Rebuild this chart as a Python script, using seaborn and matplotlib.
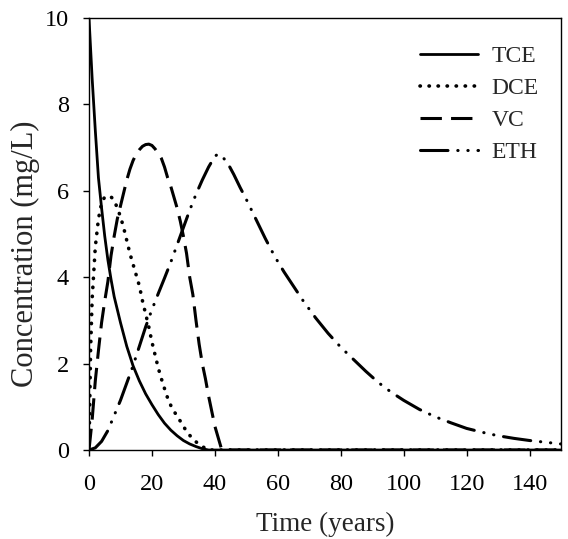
import matplotlib
matplotlib.use("Agg")
import matplotlib.pyplot as plt
import seaborn as sns
import pandas as pd

# ---- data ----
tce_t = [0, 1, 2, 3, 4, 5, 6, 7, 8, 9, 10, 12, 14, 16, 18, 20, 22, 24, 26, 28, 30, 32, 34, 36, 38, 150]
tce_c = [10, 8.6, 7.4, 6.3, 5.6, 4.95, 4.4, 3.95, 3.55, 3.25, 2.95, 2.4, 1.95, 1.6, 1.3, 1.05, 0.82, 0.62,
         0.46, 0.33, 0.22, 0.14, 0.08, 0.03, 0.0, 0.0]

dce_t = [0, 0.5, 1, 1.5, 2, 3, 4, 5, 6, 7, 8, 9, 10, 11, 12, 13, 14, 15, 16, 17, 18, 19, 20, 21, 22, 23, 24,
         25, 26, 27, 28, 29, 30, 31, 32, 33, 34, 35, 36, 37, 38, 150]
dce_c = [0, 2.3, 3.5, 4.1, 4.7, 5.35, 5.72, 5.86, 5.88, 5.86, 5.78, 5.6, 5.4, 5.15, 4.85, 4.55, 4.3, 4.05, 3.8,
         3.45, 3.15, 2.85, 2.5, 2.2, 1.9, 1.65, 1.42, 1.2, 1.03, 0.9, 0.78, 0.67, 0.55, 0.43, 0.34, 0.26, 0.19,
         0.13, 0.08, 0.04, 0.0, 0.0]

vc_t = [0, 1, 2, 3, 4, 5, 6, 7, 8, 9, 10, 11, 12, 13, 14, 15, 16, 17, 18, 19, 20, 21, 22, 23, 24, 25, 26, 27,
        28, 29, 30, 31, 32, 33, 34, 35, 36, 37, 38, 39, 40, 41, 42, 43, 150]
vc_c = [0, 0.7, 1.6, 2.3, 2.95, 3.45, 3.9, 4.5, 4.95, 5.35, 5.65, 5.95, 6.25, 6.5, 6.7, 6.85, 6.95, 7.03, 7.07,
        7.08, 7.05, 6.97, 6.87, 6.75, 6.55, 6.3, 6.1, 5.85, 5.6, 5.3, 4.95, 4.55, 4.0, 3.6, 3.0, 2.45, 2.0,
        1.65, 1.25, 0.9, 0.55, 0.3, 0.05, 0.0, 0.0]

eth_t = [0, 2, 4, 6, 8, 10, 12, 14, 16, 18, 20, 22, 24, 26, 28, 30, 32, 34, 36, 38, 40, 41, 42, 44, 46, 48,
         50, 52, 54, 56, 58, 60, 62, 64, 66, 68, 70, 72, 74, 76, 80, 84, 88, 92, 96, 100, 105, 110, 115, 120,
         125, 130, 135, 140, 145, 150]
eth_c = [0, 0.05, 0.2, 0.45, 0.8, 1.15, 1.55, 1.95, 2.4, 2.85, 3.25, 3.62, 3.98, 4.35, 4.75, 5.15, 5.55,
         5.92, 6.25, 6.55, 6.8, 6.85, 6.82, 6.65, 6.38, 6.08, 5.8, 5.5, 5.2, 4.9, 4.62, 4.36, 4.12, 3.9, 3.68,
         3.46, 3.26, 3.06, 2.88, 2.7, 2.38, 2.1, 1.82, 1.56, 1.34, 1.15, 0.94, 0.77, 0.63, 0.5, 0.41, 0.33,
         0.27, 0.22, 0.18, 0.14]

series_names = ["TCE", "DCE", "VC", "ETH"]
x_ticks = [0, 20, 40, 60, 80, 100, 120, 140]
y_ticks = [0, 2, 4, 6, 8, 10]

sns.set_style("ticks")
plt.rcParams["font.family"] = ["Liberation Serif", "DejaVu Serif"]

fig = plt.figure(figsize=(5.68, 5.39), dpi=100)
ax = fig.add_axes([0.1567, 0.1651, 0.831, 0.8015])

styles = {
    "TCE": dict(linestyle="-"),
    "DCE": dict(linestyle=(0, (0.1, 2.4)), dash_capstyle="round"),
    "VC": dict(linestyle=(0, (7.0, 3.0))),
    "ETH": dict(linestyle=(0, (9.0, 3.2, 0.1, 3.2, 0.1, 3.2)), dash_capstyle="round"),
}
widths = {"TCE": 2.0, "DCE": 2.6, "VC": 2.2, "ETH": 2.2}

data = {"TCE": (tce_t, tce_c), "DCE": (dce_t, dce_c), "VC": (vc_t, vc_c), "ETH": (eth_t, eth_c)}
for name in series_names:
    t, c = data[name]
    df = pd.DataFrame({"t": t, "c": c})
    sns.lineplot(data=df, x="t", y="c", ax=ax, color="black", lw=widths[name],
                 label=name, sort=False, estimator=None, **styles[name])

ax.set_xlim(0, 150)
ax.set_ylim(0, 10)
ax.set_xticks(x_ticks)
ax.set_yticks(y_ticks)
ax.tick_params(axis="both", labelsize=17.5, length=4.5, width=1, direction="out", colors="black")
ax.tick_params(axis="x", pad=13)
ax.tick_params(axis="y", pad=10)
for s in ax.spines.values():
    s.set_visible(True)
    s.set_linewidth(1.0)
    s.set_color("black")
ax.set_xlabel("Time (years)", fontsize=19.5, labelpad=12)
ax.set_ylabel("Concentration (mg/L)", fontsize=22)
ax.yaxis.set_label_coords(-0.104, 0.455)

leg = ax.legend(loc="upper right", frameon=False, fontsize=17, handlelength=2.45,
                handletextpad=0.6, labelspacing=0.45, borderaxespad=0.3,
                bbox_to_anchor=(0.988, 0.975))

fig.savefig("out.png", dpi=100)
